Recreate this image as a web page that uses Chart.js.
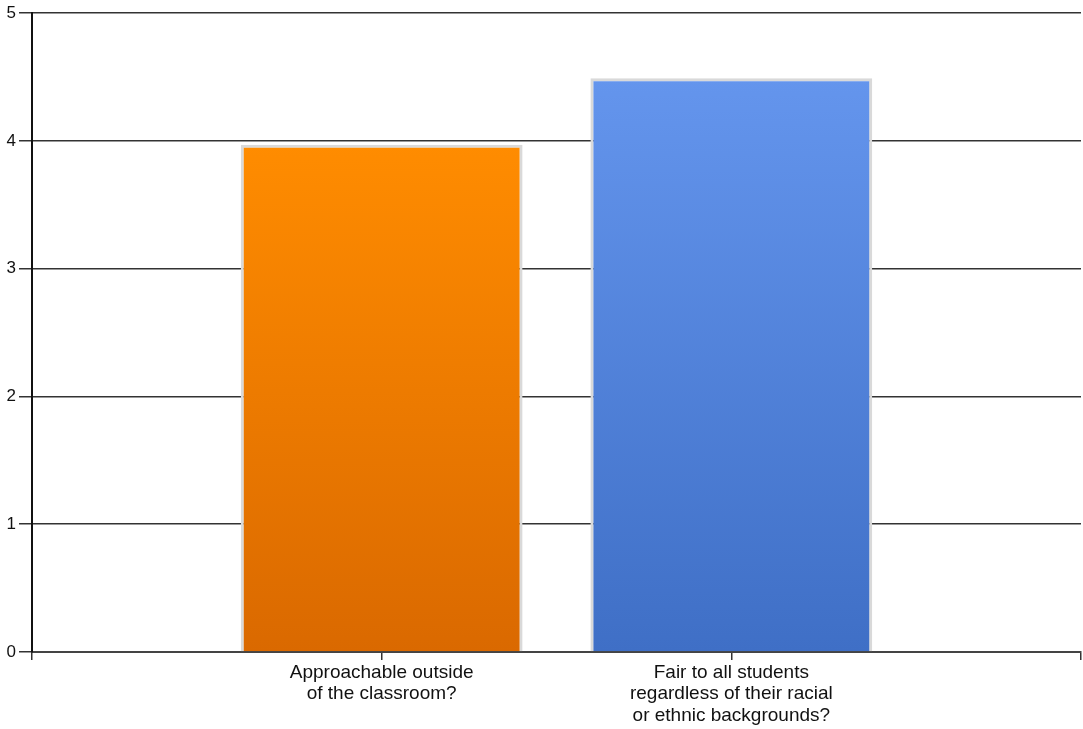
<!DOCTYPE html>
<html>
<head>
<meta charset="utf-8">
<style>
  html, body { margin: 0; padding: 0; background: #ffffff; }
  #wrap { width: 1083px; height: 729px; position: relative; }
</style>
<script src="https://cdn.jsdelivr.net/npm/chart.js@4/dist/chart.umd.min.js"></script>
</head>
<body>
<div id="wrap"><canvas id="chart" width="1083" height="729"></canvas></div>
<script>
// Survey questions (empty slots pad the axis on both sides)
const categories = [
  "",
  ["Approachable outside", "of the classroom?"],
  ["Fair to all students", "regardless of their racial", "or ethnic backgrounds?"],
  ""
];
// Average rating per question
const ratings = [null, 3.97, 4.49, null];
const yTicks = [0, 1, 2, 3, 4, 5];

// Top / bottom colours of each bar's vertical gradient
const topColors = [null, "#ff8c00", "#6495ed", null];
const bottomColors = [null, "#da6900", "#3f6fc6", null];

function barGradient(ctx) {
  const chart = ctx.chart;
  const i = ctx.dataIndex;
  if (!chart.chartArea || ratings[i] == null) return topColors[i] || "#999";
  const y = chart.scales.y;
  const top = y.getPixelForValue(ratings[i]);
  const bottom = y.getPixelForValue(0);
  const g = chart.ctx.createLinearGradient(0, top, 0, bottom);
  g.addColorStop(0, topColors[i]);
  g.addColorStop(1, bottomColors[i]);
  return g;
}

const font = { family: "'Liberation Sans', Arial, sans-serif" };

new Chart(document.getElementById("chart"), {
  type: "bar",
  data: {
    labels: categories,
    datasets: [{
      data: ratings,
      backgroundColor: barGradient,
      borderColor: "#d9d9d9",
      borderWidth: 3,
      borderSkipped: "start",
      barPercentage: 0.806,
      categoryPercentage: 1.0
    }]
  },
  options: {
    responsive: false,
    animation: false,
    layout: { padding: { top: 9, right: -2, left: 0, bottom: 0 } },
    plugins: { legend: { display: false }, tooltip: { enabled: false } },
    scales: {
      x: {
        offset: false,
        grid: {
          display: true,
          offset: false,
          drawOnChartArea: false,
          drawTicks: true,
          tickLength: 8,
          color: "#333333",
          lineWidth: 1.5
        },
        border: { display: true, color: "#444444", width: 2 },
        ticks: {
          color: "#111111",
          font: { ...font, size: 19, lineHeight: 1.13 },
          maxRotation: 0,
          autoSkip: false,
          padding: 2
        },
        afterFit: (s) => { s.height = 77; }
      },
      y: {
        min: 0,
        max: 5,
        afterBuildTicks: (s) => { s.ticks = yTicks.map(v => ({ value: v })); },
        grid: {
          color: "#333333",
          lineWidth: 1.5,
          tickLength: 13
        },
        border: { display: true, color: "#111111", width: 2 },
        ticks: {
          color: "#111111",
          font: { ...font, size: 17 },
          padding: 3
        },
        afterFit: (s) => { s.width = 32; }
      }
    }
  }
});
</script>
</body>
</html>
